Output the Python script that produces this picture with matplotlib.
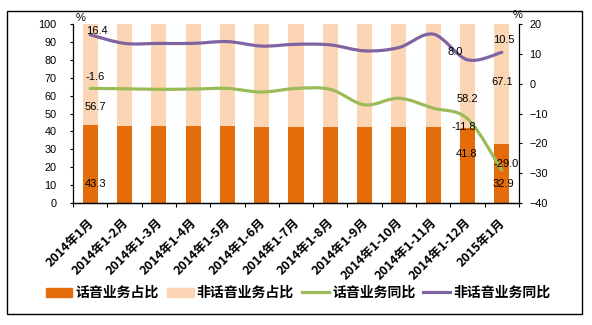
import matplotlib
matplotlib.use("Agg")
import matplotlib.pyplot as plt
from matplotlib.path import Path
from matplotlib.patches import PathPatch, Rectangle, Patch
from matplotlib.lines import Line2D
from matplotlib.transforms import ScaledTranslation
import numpy as np

categories = ["2014年1月", "2014年1-2月", "2014年1-3月", "2014年1-4月", "2014年1-5月",
              "2014年1-6月", "2014年1-7月", "2014年1-8月", "2014年1-9月", "2014年1-10月",
              "2014年1-11月", "2014年1-12月", "2015年1月"]
voice_share = [43.3, 42.8, 42.8, 43.0, 43.1, 42.7, 42.7, 42.6, 42.3, 42.2, 42.3, 41.8, 32.9]
nonvoice_share = [56.7, 57.2, 57.2, 57.0, 56.9, 57.3, 57.3, 57.4, 57.7, 57.8, 57.7, 58.2, 67.1]
voice_yoy = [-1.6, -1.7, -1.9, -1.8, -1.6, -2.8, -1.6, -1.9, -7.1, -4.9, -8.2, -11.8, -29.0]
nonvoice_yoy = [16.4, 13.5, 13.5, 13.5, 14.1, 12.6, 13.2, 13.0, 11.0, 12.1, 16.6, 8.0, 10.5]

labels = [
    ("16.4", 0.185, 96.1), ("-1.6", 0.14, 70.6), ("56.7", 0.155, 53.6), ("43.3", 0.17, 10.6),
    ("8.0", 10.65, 84.4), ("58.2", 11.0, 58.1), ("-11.8", 10.89, 42.5), ("41.8", 10.98, 27.4),
    ("10.5", 12.05, 91.1), ("67.1", 12.0, 67.6), ("-29.0", 12.13, 21.8), ("32.9", 12.05, 10.6),
]

C_VOICE = "#E46C0A"
C_NONVOICE = "#FCD5B5"
C_GREEN = "#9BBB59"
C_PURPLE = "#8064A2"
CJK = ["Noto Sans CJK SC", "DejaVu Sans"]
NUM = ["Liberation Sans", "DejaVu Sans"]

fig = plt.figure(figsize=(5.92, 3.25), dpi=100)
fig.patches.append(Rectangle((7/592, 1-314/325), 575/592, 303/325, transform=fig.transFigure,
                             fill=False, edgecolor="black", linewidth=1.0))
ax = fig.add_axes([73/592, 1-203/325, 446/592, 179/325])
ax2 = ax.twinx()

x = np.arange(len(categories))
bw = 0.44
ax.bar(x, voice_share, width=bw, color=C_VOICE, zorder=2)
ax.bar(x, nonvoice_share, width=bw, bottom=voice_share, color=C_NONVOICE, zorder=2)
ax.set_xlim(-0.5, len(categories) - 0.5)
ax.set_ylim(0, 100)
ax.set_yticks(range(0, 101, 10))
ax2.set_ylim(-40, 20)
ax2.set_yticks(range(-40, 21, 10))


def smooth_path(xs, ys):
    pts = np.column_stack([xs, ys]).astype(float)
    n = len(pts)
    verts = [pts[0]]
    codes = [Path.MOVETO]
    for i in range(n - 1):
        p0 = pts[i - 1] if i > 0 else pts[i]
        p1 = pts[i]
        p2 = pts[i + 1]
        p3 = pts[i + 2] if i + 2 < n else pts[i + 1]
        c1 = p1 + (p2 - p0) / 6.0
        c2 = p2 - (p3 - p1) / 6.0
        verts += [c1, c2, p2]
        codes += [Path.CURVE4] * 3
    return Path(verts, codes)


for ys, col in [(voice_yoy, C_GREEN), (nonvoice_yoy, C_PURPLE)]:
    ax2.add_patch(PathPatch(smooth_path(x, ys), fill=False, edgecolor=col, linewidth=2.3,
                            capstyle="round", zorder=3))

# data labels drawn on top of everything (positions given in left-axis units)
for t, lx, ly in labels:
    ax2.text(lx, ly, t, ha="center", va="center", fontsize=8, family=NUM, zorder=5,
             transform=ax.transData)

for a in (ax, ax2):
    a.spines["top"].set_visible(False)
    for s in a.spines.values():
        s.set_linewidth(0.9)
ax.spines["right"].set_visible(False)
ax2.spines["left"].set_visible(False)

ax.set_xticks(np.arange(-0.5, len(categories)), minor=False)
ax.set_xticklabels([])
ax.set_xticks(x, minor=True)
ax.set_xticklabels(categories, minor=True, rotation=45, ha="right", va="top",
                   rotation_mode="anchor", fontsize=9, fontweight="bold", family=CJK)
ax.tick_params(axis="x", which="minor", length=0, pad=9.5)
ax.tick_params(axis="x", which="major", length=3, direction="out")
shift = ScaledTranslation(-3/100, 0, fig.dpi_scale_trans)
for lab in ax.get_xticklabels(minor=True):
    lab.set_transform(lab.get_transform() + shift)
ax.tick_params(axis="y", length=2.5, direction="out", labelsize=7.8, pad=9.5)
ax2.tick_params(axis="y", length=2.5, direction="out", labelsize=7.8, pad=5)
for lab in ax.get_yticklabels() + ax2.get_yticklabels():
    lab.set_family(NUM)

ax.text(-0.42, 100.5, "%", fontsize=8, family=NUM, va="bottom", ha="left")
ax.text(12.3, 102, "%", fontsize=8, family=NUM, va="bottom", ha="left")

handles = [Patch(color=C_VOICE), Patch(color=C_NONVOICE),
           Line2D([0], [0], color=C_GREEN, lw=2.3), Line2D([0], [0], color=C_PURPLE, lw=2.3)]
names = ["话音业务占比", "非话音业务占比", "话音业务同比", "非话音业务同比"]
fig.legend(handles, names, loc="center", bbox_to_anchor=(298/592, 1-293/325), ncol=4,
           frameon=False, prop={"family": CJK, "weight": "bold", "size": 10},
           handlelength=1.94, handleheight=0.6, handletextpad=0.22, columnspacing=0.58,
           borderpad=0.2)

fig.savefig("out.png", dpi=100)
